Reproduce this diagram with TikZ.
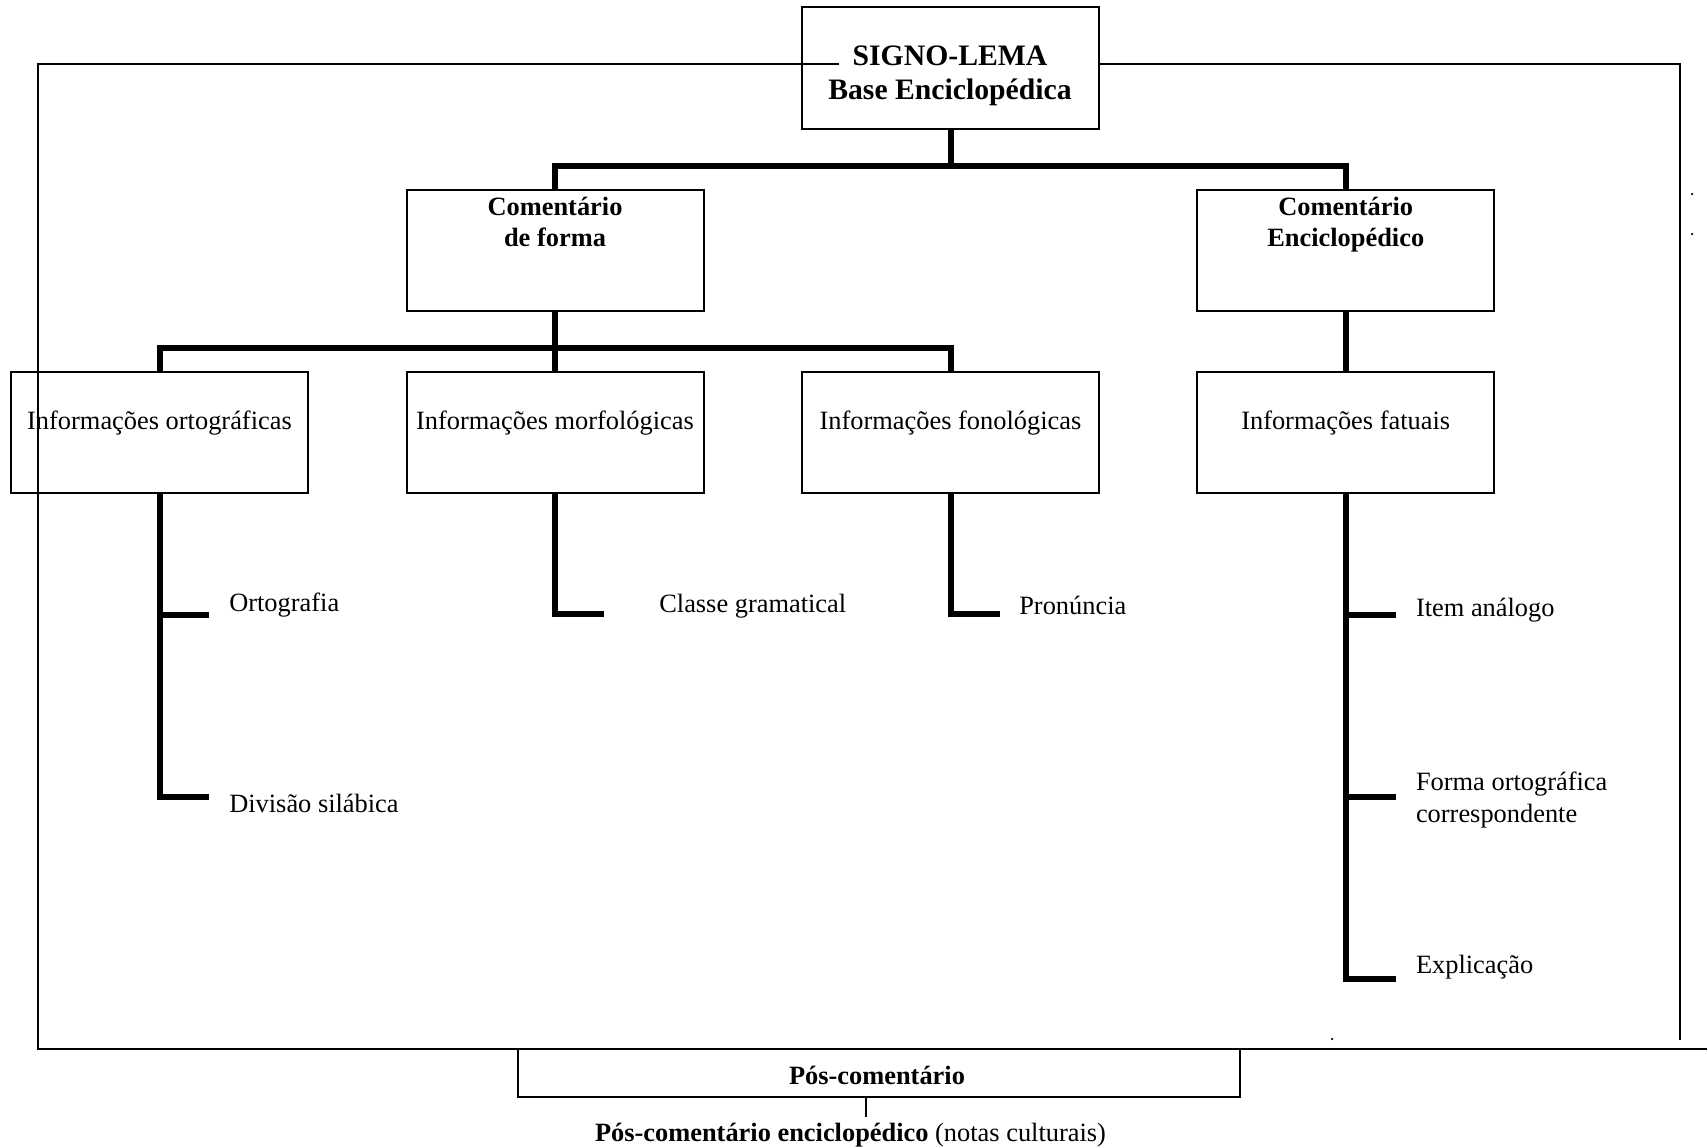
\documentclass[tikz,border=0pt]{standalone}
\usepackage{fontspec}
\setmainfont{Liberation Serif}
\begin{document}
\begin{tikzpicture}[x=1pt,y=-1pt,
  box/.style={draw,line width=2pt,minimum width=297pt,minimum height=121pt,inner sep=0pt,outer sep=0pt},
  bus/.style={line width=6pt},
  frame/.style={line width=2pt},
  txt/.style={inner sep=0pt,outer sep=0pt,anchor=base,font=\fontsize{26.4}{31}\selectfont},
  btxt/.style={txt,font=\fontsize{26.4}{31}\selectfont\bfseries},
  htxt/.style={txt,font=\fontsize{29.7}{35}\selectfont\bfseries},
  ltxt/.style={txt,anchor=base west},
  dot/.style={circle,fill,inner sep=0pt,minimum size=2.5pt}
]
\useasboundingbox (0,0) rectangle (1707,1146);

% boxes
\node[box,minimum height=122pt] (signo) at (950.5,68) {};
\node[box] (cf) at (555,250.5) {};
\node[box] (ce) at (1345.7,250.5) {};
\node[box] (io) at (159.5,432.5) {};
\node[box] (im) at (555,432.5) {};
\node[box] (ifo) at (950.5,432.5) {};
\node[box] (ifa) at (1345.7,432.5) {};
\node[draw,line width=2pt,minimum width=722pt,minimum height=48pt,inner sep=0pt,outer sep=0pt] (pc) at (879,1073) {};

% box texts
\node[htxt] (t-signo1) at (950,65) {SIGNO-LEMA};
\node[htxt] (t-signo2) at (950,99.3) {Base Enciclopédica};
\node[btxt] (t-cf1) at (555,215.7) {Comentário};
\node[btxt] (t-cf2) at (555,246.7) {de forma};
\node[btxt] (t-ce1) at (1345.7,215.7) {Comentário};
\node[btxt] (t-ce2) at (1345.7,246.7) {Enciclopédico};
\node[txt] (t-io) at (159.5,429.3) {Informações ortográficas};
\node[txt] (t-im) at (555,429.3) {Informações morfológicas};
\node[txt] (t-ifo) at (950.5,429.3) {Informações fonológicas};
\node[txt] (t-ifa) at (1345.7,429.3) {Informações fatuais};
\node[btxt] (t-pc) at (877,1084) {Pós-comentário};
\node[txt] (t-pce) at (850.5,1141) {\textbf{Pós-comentário enciclopédico} (notas culturais)};

% tree connectors
\coordinate (j1) at (950.5,166);
\coordinate (j2) at (555,348);
\draw[bus] (signo.south) -- (j1);
\draw[bus] (cf.north) |- (j1) -| (ce.north);
\draw[bus] (cf.south) -- (j2) -- (im.north);
\draw[bus] (io.north) |- (j2) -| (ifo.north);
\draw[bus] (ce.south) -- (ifa.north);

% lists under the level-three boxes
\coordinate (o1) at (209,614.7);
\coordinate (o2) at (209,797.3);
\draw[bus] (io.south) |- (o2);
\draw[bus] (io.south |- o1) -- (o1);
\node[ltxt] (l-o1) at (229.3,611.7) {Ortografia};
\node[ltxt] (l-o2) at (229.3,812.7) {Divisão silábica};

\coordinate (m1) at (604,614);
\draw[bus] (im.south) |- (m1);
\node[ltxt] (l-m1) at (659.3,612.3) {Classe gramatical};

\coordinate (f1) at (1000,614);
\draw[bus] (ifo.south) |- (f1);
\node[ltxt] (l-f1) at (1019.3,614.3) {Pronúncia};

\coordinate (a1) at (1396,615);
\coordinate (a2) at (1396,797);
\coordinate (a3) at (1396,979.3);
\draw[bus] (ifa.south) |- (a3);
\draw[bus] (ifa.south |- a1) -- (a1);
\draw[bus] (ifa.south |- a2) -- (a2);
\node[ltxt] (l-a1) at (1416,616) {Item análogo};
\node[ltxt] (l-a2) at (1416,790.7) {Forma ortográfica};
\node[ltxt] (l-a2b) at (1416,822.7) {correspondente};
\node[ltxt] (l-a3) at (1416,973.3) {Explicação};

% outer frame
\coordinate (fl) at (839,63.5);
\draw[frame] (fl) -- (38,63.5) -- (38,1049) -- (1707,1049);
\draw[frame] (signo.east |- fl) -- (1680,63.5) -- (1680,1040);
\coordinate (pcx) at (866,1117);
\draw[frame] (pcx |- pc.south) -- (pcx);

% stray dots
\node[dot] (d1) at (1692,194) {};
\node[dot] (d2) at (1692,234) {};
\node[dot] (d3) at (1332,1039) {};
\end{tikzpicture}
\end{document}
